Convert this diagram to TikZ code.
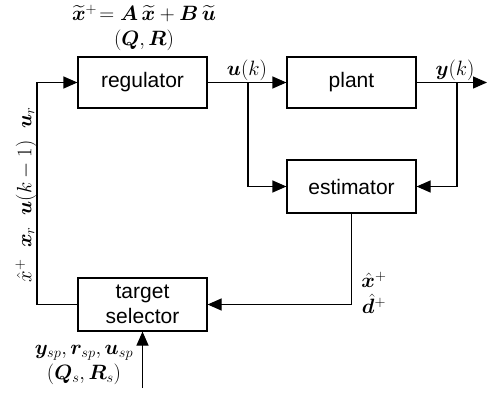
\documentclass[tikz,border=0pt]{standalone}
\usepackage{amsmath}
\usepackage{bm}
\usepackage{fontspec}
\setmainfont{Liberation Sans}
\usetikzlibrary{arrows.meta}
\begin{document}
\begin{tikzpicture}[x=1pt,y=-1pt,
  blk/.style={draw,line width=1.2pt,minimum width=129pt,minimum height=51pt,inner sep=0pt,
    font=\fontsize{21}{25}\selectfont,align=center},
  conn/.style={line width=1.2pt},
  arr/.style={conn,-{Triangle[length=14pt,width=12pt]}},
  lbl/.style={font=\fontsize{20}{24}\selectfont,inner sep=0pt,align=center}]
\useasboundingbox (0,0) rectangle (487,398);
\node[blk] (reg) at (142.5,82.5) {regulator};
\node[blk] (plant) at (351.5,82.5) {plant};
\node[blk,minimum height=53pt] (est) at (351.5,186.5) {estimator};
\node[blk,minimum height=53pt] (ts) at (142.5,304.5) {target\\selector};
\coordinate (lb) at (37,304.5);
\coordinate (lt) at (37,82.5);
\coordinate (ub) at (248,82.5);
\coordinate (yb) at (457,82.5);
\coordinate (yout) at (487,82.5);
\coordinate (sp) at (142.5,388);
\draw[arr] (ts.west) -- (lb) -- (lt) -- (reg.west);
\draw[arr] (reg.east) -- (plant.west);
\draw[arr] (ub) |- (est.west);
\draw[arr] (plant.east) -- (yout);
\draw[arr] (yb) |- (est.east);
\draw[arr] (est.south) |- (ts.east);
\draw[arr] (sp) -- (ts.south);
\node[lbl] (eq) at (144,28) {$\widetilde{\bm x}^{+}\!=\bm A\,\widetilde{\bm x}+\bm B\,\widetilde{\bm u}$\\[1pt]$(\bm Q,\bm R)$};
\node[lbl] (uk) at (247,70) {$\bm u(k)$};
\node[lbl] (yk) at (455,70) {$\bm y(k)$};
\node[lbl,rotate=90] (left) at (26,195) {$\hat{x}^{+}\;\;\bm x_r\;\;\bm u(k-1)\;\;\bm u_r$};
\node[lbl] (xd) at (374,293) {$\hat{\bm x}^{+}$\\[2pt]$\hat{\bm d}^{+}$};
\node[lbl] (ysp) at (84,365) {$\bm y_{sp},\bm r_{sp},\bm u_{sp}$\\[1pt]$(\bm Q_s,\bm R_s)$};
\end{tikzpicture}
\end{document}
